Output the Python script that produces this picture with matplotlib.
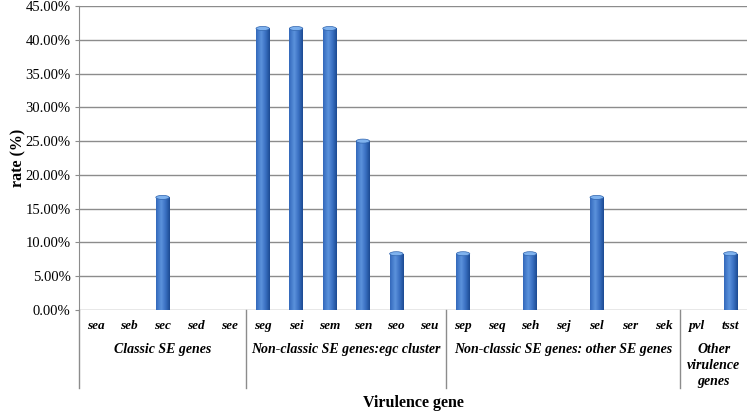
import numpy as np
import matplotlib
matplotlib.use("Agg")
import matplotlib.pyplot as plt
from matplotlib.patches import Ellipse
from matplotlib.ticker import FuncFormatter

plt.rcParams['font.family'] = ['Liberation Serif', 'DejaVu Serif']

genes = ['sea', 'seb', 'sec', 'sed', 'see',
         'seg', 'sei', 'sem', 'sen', 'seo', 'seu',
         'sep', 'seq', 'seh', 'sej', 'sel', 'ser', 'sek',
         'pvl', 'tsst']
rates = [0, 0, 16.67, 0, 0,
         41.67, 41.67, 41.67, 25.0, 8.33, 0,
         8.33, 0, 8.33, 0, 16.67, 0, 0,
         0, 8.33]
groups = ['Classic SE genes', 'Non-classic SE genes:egc cluster',
          'Non-classic SE genes: other SE genes', 'Other\nvirulence\ngenes']
group_sizes = [5, 6, 7, 2]

W, H = 748, 411
fig = plt.figure(figsize=(W / 100, H / 100), dpi=100)
ax = fig.add_axes([79 / W, 1 - 310 / H, (747 - 79) / W, (310 - 6) / H])

x = np.arange(len(genes))
bw = 0.4
bars = ax.bar(x, rates, width=bw, color='#3f74c4', zorder=3)

# cylinder shading: horizontal gradient clipped to each bar
grad = np.linspace(0, 1, 64)
shade = 1 - np.abs(grad - 0.38) / 0.62
cmap = matplotlib.colors.LinearSegmentedColormap.from_list(
    'cyl', ['#1c4a92', '#3a70c2', '#5b92dc'])
for b, r in zip(bars, rates):
    if r <= 0:
        continue
    x0 = b.get_x()
    im = ax.imshow(shade[None, :], cmap=cmap, vmin=0, vmax=1, aspect='auto',
                   extent=[x0, x0 + bw, 0, r], zorder=4, interpolation='bilinear')
    im.set_clip_path(b)
    ax.add_patch(Ellipse((x0 + bw / 2, r), bw, 0.6, color='#7fb2ee',
                         ec='#2f63ad', lw=0.5, zorder=5))

ax.set_xlim(-0.5, len(genes) - 0.5)
ax.set_ylim(0, 45)
ax.set_yticks(np.arange(0, 46, 5))
ax.yaxis.set_major_formatter(FuncFormatter(lambda v, p: '%.2f%%' % v))
ax.grid(axis='y', color='#8c8c8c', lw=1, zorder=0)
ax.set_xticks([])
for s in ['top', 'right', 'bottom']:
    ax.spines[s].set_visible(False)
ax.spines['left'].set_color('#8c8c8c')
ax.tick_params(axis='y', length=3, color='#8c8c8c', labelsize=10.5, pad=3)

tr = ax.get_xaxis_transform()
ah = 304.0
for i, g in enumerate(genes):
    ax.text(i, -16 / ah, g, transform=tr, ha='center', va='center',
            fontsize=9.5, fontweight='bold', style='italic')

start = 0
for g, n in zip(groups, group_sizes):
    mid = start + (n - 1) / 2
    ax.text(mid, -33 / ah, g, transform=tr, ha='center', va='top',
            fontsize=10, fontweight='bold', style='italic', linespacing=1.3)
    if start > 0:
        ax.plot([start - 0.5, start - 0.5], [0, -78 / ah], transform=tr,
                color='#8c8c8c', lw=1, clip_on=False)
    start += n
ax.plot([-0.5, -0.5], [0, -78 / ah], transform=tr, color='#8c8c8c', lw=1,
        clip_on=False)

fig.text(413 / W, 1 - 403 / H, 'Virulence gene', ha='center', va='center',
         fontsize=11.5, fontweight='bold')
fig.text(18 / W, 1 - 158 / H, 'rate (%)', ha='center', va='center',
         rotation=90, fontsize=11.5, fontweight='bold')

fig.savefig('out.png', dpi=100)
